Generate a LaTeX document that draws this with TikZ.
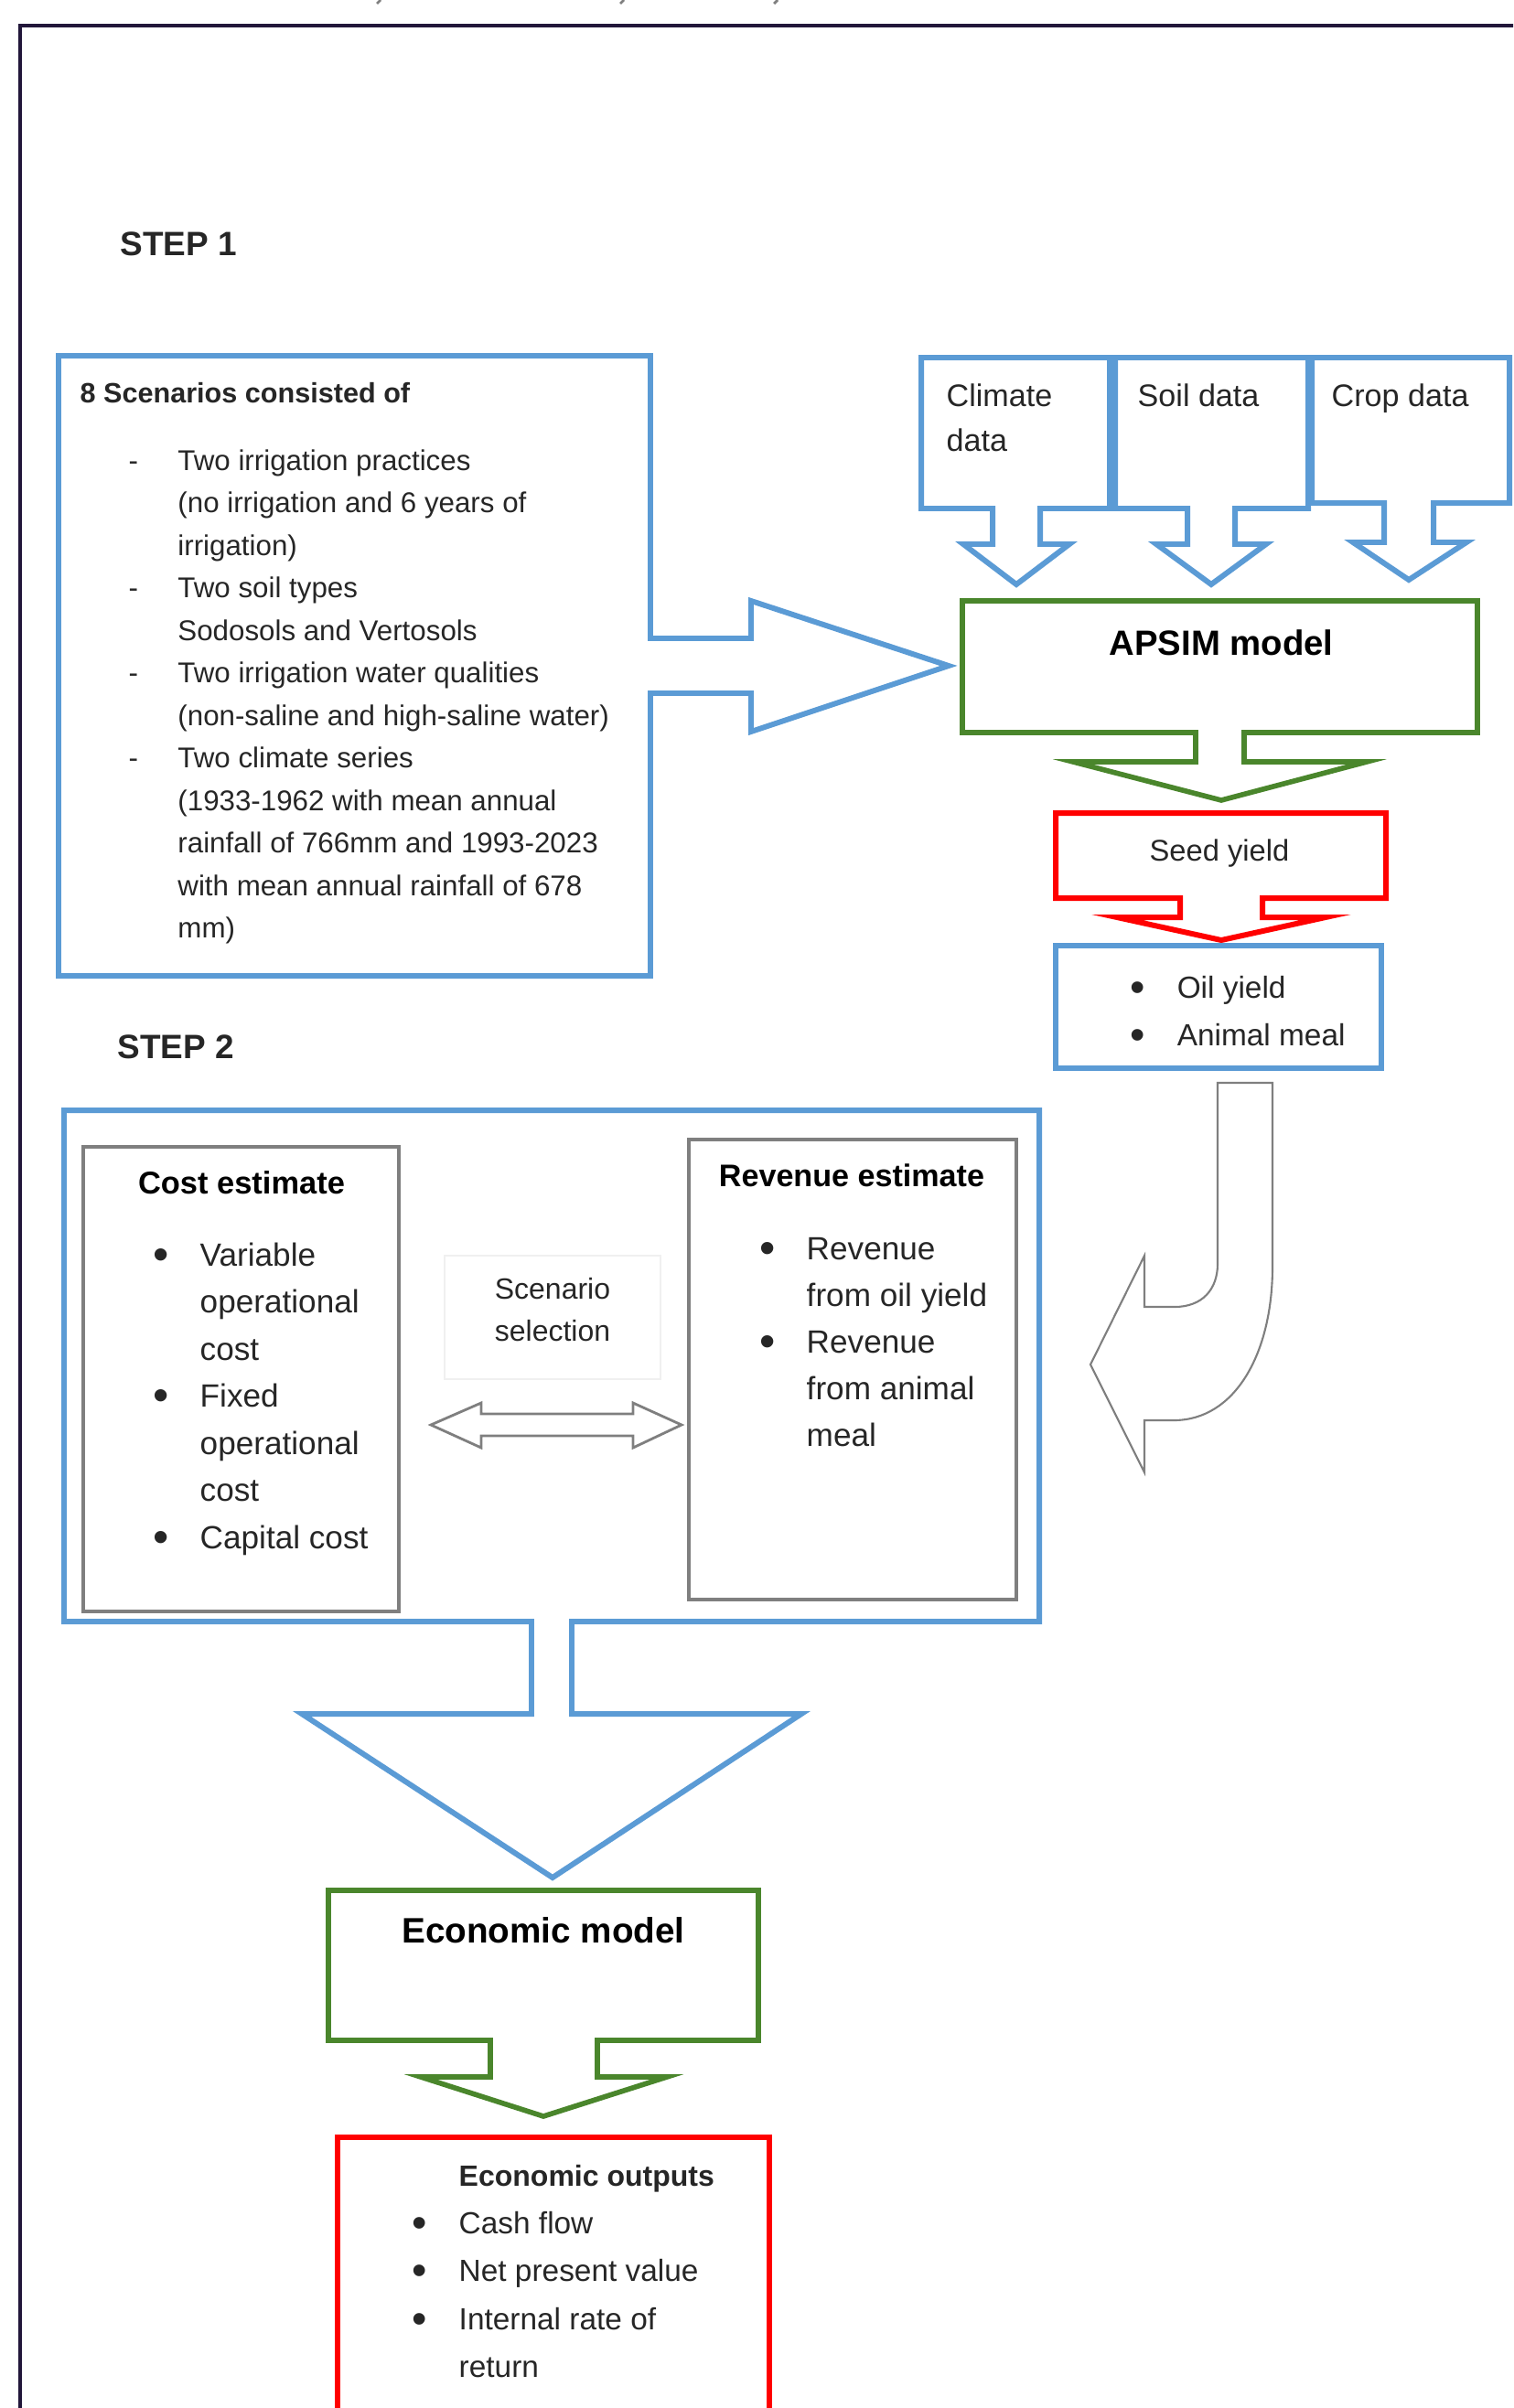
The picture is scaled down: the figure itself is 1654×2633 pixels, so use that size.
\documentclass[tikz,border=0pt]{standalone}
\usepackage{fontspec}
\setmainfont{Liberation Sans}
\definecolor{blueC}{HTML}{5B9BD5}
\definecolor{greenC}{HTML}{4A862C}
\definecolor{redC}{HTML}{FF0000}
\definecolor{grayC}{HTML}{7F7F7F}
\definecolor{frameC}{HTML}{22173A}
\newcommand\rows[1]{\begin{tabular}[t]{@{}l@{}}#1\end{tabular}}
\newcommand\bul[1]{\makebox[#1][l]{\raisebox{-0.12em}{\scalebox{1.4}{\textbullet}}}}
\newcommand\nob[1]{\makebox[#1][l]{}}
\begin{document}
\begin{tikzpicture}[x=0.01cm,y=-0.01cm,
  bluebox/.style={draw=blueC,line width=1.7pt,line join=miter},
  greenbox/.style={draw=greenC,line width=1.6pt,line join=miter},
  redbox/.style={draw=redC,line width=1.7pt,line join=miter},
  graybox/.style={draw=grayC,line width=1pt},
  grayarrow/.style={draw=grayC,line width=0.6pt,line join=miter},
  txt/.style={inner sep=0pt,anchor=base west,text=black!85},
  ctxt/.style={inner sep=0pt,anchor=base,text=black!85}]
\useasboundingbox (0,0) rectangle (1654,2633);
\clip (0,0) rectangle (1654,2633);
% frame
\draw[frameC,line width=1pt] (22,2640) -- (22,28) -- (1660,28);
% stray marks at top
\draw[grayC,line width=0.8pt] (416,0) -- (412,4) (682,0) -- (678,4) (850,0) -- (846,4);

% STEP labels
\node[txt,font=\fontsize{10.5}{12}\selectfont\bfseries] (step1) at (131,279) {STEP 1};
\node[txt,font=\fontsize{10.5}{12}\selectfont\bfseries] (step2) at (128,1157) {STEP 2};

% scenario callout box
\draw[bluebox] (64,389) -- (711,389) -- (711,698) -- (821,698) -- (821,657)
  -- (1037,728) -- (821,800) -- (821,758) -- (711,758) -- (711,1067) -- (64,1067) -- cycle;
\node[txt,font=\fontsize{8.7}{13.23}\selectfont\bfseries] (sctitle) at (87,440) {8 Scenarios consisted of};
\node[txt,font=\fontsize{8.9}{13.23}\selectfont] (sclist) at (140,514) {\rows{%
\makebox[0.537cm][l]{-}Two irrigation practices\\
\nob{0.537cm}(no irrigation and 6 years of\\
\nob{0.537cm}irrigation)\\
\makebox[0.537cm][l]{-}Two soil types\\
\nob{0.537cm}Sodosols and Vertosols\\
\makebox[0.537cm][l]{-}Two irrigation water qualities\\
\nob{0.537cm}(non-saline and high-saline water)\\
\makebox[0.537cm][l]{-}Two climate series\\
\nob{0.537cm}(1933-1962 with mean annual\\
\nob{0.537cm}rainfall of 766mm and 1993-2023\\
\nob{0.537cm}with mean annual rainfall of 678\\
\nob{0.537cm}mm)}};

% data boxes with down arrows
\draw[bluebox] (1007,391) -- (1213,391) -- (1213,556) -- (1137,556) -- (1137,595) -- (1169,595)
  -- (1111,639) -- (1053,595) -- (1085,595) -- (1085,556) -- (1007,556) -- cycle;
\draw[bluebox] (1219,391) -- (1430,391) -- (1430,556) -- (1350,556) -- (1350,595) -- (1384,595)
  -- (1324,639) -- (1264,595) -- (1298,595) -- (1298,556) -- (1219,556) -- cycle;
\draw[bluebox] (1434,391) -- (1650,391) -- (1650,550) -- (1567,550) -- (1567,593) -- (1603,593)
  -- (1540,634) -- (1479,593) -- (1513,593) -- (1513,550) -- (1434,550) -- cycle;
\node[txt,font=\fontsize{9.7}{14.1}\selectfont] (climate) at (1034,444) {\rows{Climate\\data}};
\node[txt,font=\fontsize{9.7}{14.1}\selectfont] (soil) at (1243,444) {Soil data};
\node[txt,font=\fontsize{9.7}{14.1}\selectfont] (crop) at (1455,444) {Crop data};

% APSIM model
\draw[greenbox] (1052,657) -- (1615,657) -- (1615,801) -- (1360,801) -- (1360,833) -- (1494,833)
  -- (1335,875) -- (1173,833) -- (1307,833) -- (1307,801) -- (1052,801) -- cycle;
\node[ctxt,font=\fontsize{10.9}{13}\selectfont\bfseries,text=black] (apsim) at (1335,716) {APSIM model};

% Seed yield
\draw[redbox] (1154,889) -- (1515,889) -- (1515,982) -- (1380,982) -- (1380,1003) -- (1449,1003)
  -- (1335,1028) -- (1221,1003) -- (1290,1003) -- (1290,982) -- (1154,982) -- cycle;
\node[ctxt,font=\fontsize{9.3}{13}\selectfont] (seed) at (1333,941) {Seed yield};

% Oil / meal box
\draw[bluebox] (1154,1034) rectangle (1510,1168);
\node[txt,font=\fontsize{9.5}{14.8}\selectfont] (oil) at (1235,1091) {\rows{\bul{0.51cm}Oil yield\\\bul{0.51cm}Animal meal}};

% J arrow
\draw[grayarrow] (1331,1184) -- (1391,1184) -- (1391,1385)
  .. controls (1391,1480) and (1350,1553) .. (1283,1553) -- (1251,1553) -- (1251,1610)
  -- (1192,1492) -- (1251,1373) -- (1251,1429) -- (1284,1429)
  .. controls (1314,1429) and (1331,1410) .. (1331,1382) -- cycle;

% STEP 2 big box with down arrow
\draw[bluebox] (70,1214) -- (1136,1214) -- (1136,1773) -- (625,1773) -- (625,1874) -- (876,1874)
  -- (604,2053) -- (330,1874) -- (581,1874) -- (581,1773) -- (70,1773) -- cycle;

% Cost estimate
\draw[graybox] (91,1254) rectangle (436,1762);
\node[ctxt,font=\fontsize{9.8}{14.66}\selectfont\bfseries,text=black] (costt) at (264,1305) {Cost estimate};
\node[txt,font=\fontsize{10}{14.66}\selectfont] (costl) at (167,1384) {\rows{%
\bul{0.51cm}Variable\\
\nob{0.51cm}operational\\
\nob{0.51cm}cost\\
\bul{0.51cm}Fixed\\
\nob{0.51cm}operational\\
\nob{0.51cm}cost\\
\bul{0.51cm}Capital cost}};

% Revenue estimate
\draw[graybox] (753,1246) rectangle (1111,1749);
\node[ctxt,font=\fontsize{9.7}{14.57}\selectfont\bfseries,text=black] (revt) at (931,1297) {Revenue estimate};
\node[txt,font=\fontsize{10}{14.57}\selectfont] (revl) at (830,1377) {\rows{%
\bul{0.51cm}Revenue\\
\nob{0.51cm}from oil yield\\
\bul{0.51cm}Revenue\\
\nob{0.51cm}from animal\\
\nob{0.51cm}meal}};

% Scenario selection
\draw[draw=black!6,line width=0.5pt] (486,1373) rectangle (722,1508);
\node[ctxt,font=\fontsize{9.1}{13.1}\selectfont] (scsel) at (604,1420) {\begin{tabular}[t]{@{}c@{}}Scenario\\selection\end{tabular}};
\draw[grayarrow,line width=0.8pt] (471,1558) -- (526,1534) -- (526,1546) -- (692,1546) -- (692,1534)
  -- (745,1558) -- (692,1583) -- (692,1570) -- (526,1570) -- (526,1583) -- cycle;

% Economic model
\draw[greenbox] (359,2067) -- (829,2067) -- (829,2231) -- (653,2231) -- (653,2271) -- (729,2271)
  -- (594,2314) -- (460,2271) -- (536,2271) -- (536,2231) -- (359,2231) -- cycle;
\node[ctxt,font=\fontsize{11}{13}\selectfont\bfseries,text=black] (econ) at (594,2124) {Economic model};

% Economic outputs
\draw[redbox] (369,2660) -- (369,2337) -- (841,2337) -- (841,2660);
\node[txt,font=\fontsize{9.5}{14.9}\selectfont] (outl) at (450,2390) {\rows{%
\nob{0.51cm}{\fontsize{9.1}{14.9}\selectfont\bfseries Economic outputs}\\
\bul{0.51cm}Cash flow\\
\bul{0.51cm}Net present value\\
\bul{0.51cm}Internal rate of\\
\nob{0.51cm}return}};
\end{tikzpicture}
\end{document}
